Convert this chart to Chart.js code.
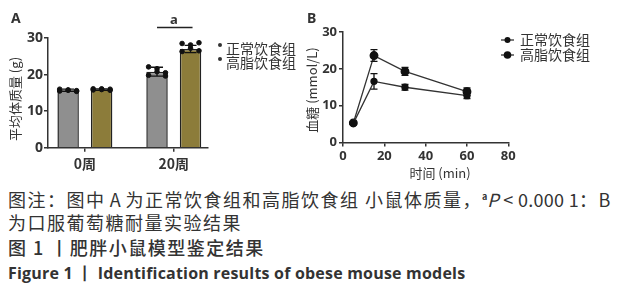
<!DOCTYPE html>
<html>
<head>
<meta charset="utf-8">
<script src="https://cdn.jsdelivr.net/npm/chart.js@4.4.0/dist/chart.umd.min.js"></script>
<style>
    body { margin: 0; background: #fff; }
    #wrap { position: relative; width: 618px; height: 300px; overflow: hidden; }
    canvas { position: absolute; top: 0; }
    #cA { left: 0; }
    #cB { left: 300px; }
    .cap { position: absolute; left: 8px; font-family: "Noto Sans CJK SC"; font-size: 18px; color: #333;
           letter-spacing: 1.5px; white-space: nowrap; line-height: 20px; }
    .cap sup { font-size: 9px; vertical-align: 7px; letter-spacing: 0; font-weight: bold; }
    .lat { letter-spacing: 0.3px; }
    .en { font-family: "Open Sans"; font-weight: 700; font-size: 16px; letter-spacing: 0.2px; }
</style>
</head>
<body>
<div id="wrap">
    <canvas id="cA" width="300" height="180"></canvas>
    <canvas id="cB" width="318" height="180"></canvas>
    <div class="cap" style="top:187px">图注：图中<span class="lat"> A </span>为正常饮食组和高脂饮食组 小鼠体质量，<sup>a</sup><span class="lat"><i>P</i> &lt; 0.000 1</span>：B</div>
    <div class="cap" style="top:212px">为口服葡萄糖耐量实验结果</div>
    <div class="cap" style="top:237px;font-weight:500">图 1 丨肥胖小鼠模型鉴定结果</div>
    <div class="cap en" style="top:263px">Figure 1 丨 Identification results of obese mouse models</div>
</div>
<script>
// Panel A: body mass (g), bars = mean, dots = single mice
var weekLabels = ['0周', '20周'];
var groupNames = ['正常饮食组', '高脂饮食组'];
var normalMass = [15.7, 20.8];
var normalMassSd = [0.3, 1.2];
var highFatMass = [15.9, 27.0];
var highFatMassSd = [0.2, 1.0];
var normalMassDots = [[16.0, 15.8, 15.6, 15.5, 15.7, 15.4], [22.1, 21.6, 20.5, 19.8, 20.8, 19.6]];
var highFatMassDots = [[16.1, 15.9, 16.0, 15.8, 16.1, 15.7], [28.5, 28.1, 28.7, 26.3, 27.2, 26.5]];
var massTicks = [0, 10, 20, 30];
var sigHeight = 32.9;
var sigMark = 'a';

// Panel B: oral glucose tolerance test, mmol/L
var ogttTime = [5, 15, 30, 60];
var normalGlucose = [5.2, 16.6, 15.0, 12.7];
var normalGlucoseSd = [0.3, 2.1, 0.8, 0.8];
var highFatGlucose = [5.3, 23.6, 19.3, 13.8];
var highFatGlucoseSd = [0.3, 1.6, 1.1, 1.0];
var glucoseTicks = [0, 10, 20, 30];
var timeTicks = [0, 20, 40, 60, 80];

var ink = '#333';
var cjk = '"Noto Sans CJK SC"';
var tickFont = { family: '"Noto Sans"', weight: 'bold', size: 14 };
Chart.defaults.font.family = cjk;
Chart.defaults.color = ink;

var catPct = 0.754;

// spread the mice over three columns on top of their bar
function dotPoints(groups, side) {
    var pts = [];
    groups.forEach(function (vals, i) {
        vals.forEach(function (v, k) {
            pts.push({ x: i + side * catPct / 4 + (k % 3 - 1) * 0.095, y: v });
        });
    });
    return pts;
}

// mean +/- SD whiskers for any dataset that carries an errs array
var errorBarPlugin = {
    id: 'errorBars',
    afterDatasetsDraw: function (chart) {
        var ctx = chart.ctx, y = chart.scales.y;
        chart.data.datasets.forEach(function (ds, i) {
            if (!ds.errs) return;
            var meta = chart.getDatasetMeta(i);
            var cap = ds.capWidth || 5;
            ctx.save();
            ctx.strokeStyle = '#111';
            ctx.lineWidth = 1.3;
            meta.data.forEach(function (el, j) {
                var v = ds.data[j].y, e = ds.errs[j];
                var t = y.getPixelForValue(v + e), b = y.getPixelForValue(v - e);
                ctx.beginPath();
                ctx.moveTo(el.x, t); ctx.lineTo(el.x, b);
                ctx.moveTo(el.x - cap, t); ctx.lineTo(el.x + cap, t);
                ctx.moveTo(el.x - cap, b); ctx.lineTo(el.x + cap, b);
                ctx.stroke();
            });
            ctx.restore();
        });
    }
};

function rotatedText(ctx, text, x, y, font) {
    ctx.save();
    ctx.translate(x, y);
    ctx.rotate(-Math.PI / 2);
    ctx.font = font;
    ctx.textAlign = 'center';
    ctx.textBaseline = 'middle';
    ctx.fillText(text, 0, 0);
    ctx.restore();
}

// panel letter, axis title, legend and the significance bar of panel A
var panelAPlugin = {
    id: 'panelA',
    afterDraw: function (chart) {
        var ctx = chart.ctx;
        ctx.save();
        ctx.fillStyle = ink;
        ctx.strokeStyle = '#222';
        ctx.font = 'bold 14px "Noto Sans"';
        ctx.textBaseline = 'middle';
        ctx.fillText('A', 11, 19);
        rotatedText(ctx, '平均体质量 (g)', 15, 99, '13px ' + cjk);

        // significance bar between the two 20 week bars
        var y = chart.scales.y.getPixelForValue(sigHeight);
        var x1 = chart.getDatasetMeta(2).data[1].x, x2 = chart.getDatasetMeta(3).data[1].x;
        ctx.lineWidth = 1.5;
        ctx.beginPath();
        ctx.moveTo(x1, y); ctx.lineTo(x2 + 2, y);
        ctx.stroke();
        ctx.font = 'bold 13px "Noto Sans"';
        ctx.textAlign = 'center';
        ctx.fillText(sigMark, (x1 + x2) / 2, y - 7);

        // legend
        ctx.textAlign = 'left';
        ctx.font = '14px ' + cjk;
        groupNames.forEach(function (name, i) {
            var ly = 49 + i * 14;
            ctx.beginPath();
            ctx.arc(220, ly - 4, 2, 0, Math.PI * 2);
            ctx.fill();
            ctx.fillText(name, 226, ly);
        });
        ctx.restore();
    }
};

var panelBPlugin = {
    id: 'panelB',
    afterDraw: function (chart) {
        var ctx = chart.ctx;
        ctx.save();
        ctx.fillStyle = ink;
        ctx.strokeStyle = ink;
        ctx.font = 'bold 14px "Noto Sans"';
        ctx.textBaseline = 'middle';
        ctx.fillText('B', 7, 19);
        rotatedText(ctx, '血糖 (mmol/L)', 12, 90, '13px ' + cjk);
        ctx.font = '13px ' + cjk;
        ctx.textAlign = 'center';
        ctx.fillText('时间 (min)', 140, 173);

        // legend: line with marker, then group name
        ctx.textAlign = 'left';
        ctx.font = '14px ' + cjk;
        chart.data.datasets.forEach(function (ds, i) {
            var ly = 40 + i * 15;
            ctx.lineWidth = 1.3;
            ctx.beginPath();
            ctx.moveTo(201, ly); ctx.lineTo(214, ly);
            ctx.stroke();
            ctx.beginPath();
            ctx.arc(207.5, ly, ds.pointRadius, 0, Math.PI * 2);
            ctx.fillStyle = '#111';
            ctx.fill();
            ctx.fillStyle = ink;
            ctx.fillText(ds.label, 220, ly);
        });
        ctx.restore();
    }
};

function axisStyle(extra) {
    var base = {
        grid: { display: true, drawOnChartArea: false, color: ink, lineWidth: 1.5, tickLength: 4, offset: false },
        border: { display: true, color: ink, width: 1.5 },
        ticks: { color: ink, font: tickFont, maxRotation: 0 }
    };
    return Object.assign(base, extra);
}

new Chart(document.getElementById('cA'), {
    type: 'bar',
    data: {
        datasets: [
            { type: 'scatter', data: dotPoints(normalMassDots, -1), backgroundColor: '#111', borderColor: '#111', pointRadius: 2.3, order: 0 },
            { type: 'scatter', data: dotPoints(highFatMassDots, 1), backgroundColor: '#111', borderColor: '#111', pointRadius: 2.3, order: 0 },
            {
                label: groupNames[0],
                data: normalMass.map(function (v, i) { return { x: i, y: v }; }),
                errs: normalMassSd, capWidth: 6,
                backgroundColor: '#8f8f8f', borderColor: '#222', borderWidth: 1.5,
                categoryPercentage: catPct, barPercentage: 0.64, order: 1
            },
            {
                label: groupNames[1],
                data: highFatMass.map(function (v, i) { return { x: i, y: v }; }),
                errs: highFatMassSd, capWidth: 6,
                backgroundColor: '#8c7c3a', borderColor: '#222', borderWidth: 1.5,
                categoryPercentage: catPct, barPercentage: 0.64, order: 1
            }
        ]
    },
    options: {
        responsive: false,
        animation: false,
        layout: { padding: { top: 38, right: 92, left: 0, bottom: 0 } },
        plugins: { legend: { display: false }, tooltip: { enabled: false } },
        scales: {
            x: axisStyle({
                type: 'linear', min: -0.415, max: 1.385, offset: false,
                afterBuildTicks: function (s) { s.ticks = weekLabels.map(function (l, i) { return { value: i }; }); },
                ticks: { color: ink, font: { family: cjk, size: 14, weight: 'bold' }, padding: 4, maxRotation: 0,
                         callback: function (v, i) { return weekLabels[i]; } },
                afterFit: function (s) { s.height = 32.3; }
            }),
            y: axisStyle({
                min: 0, max: 30,
                afterBuildTicks: function (s) { s.ticks = massTicks.map(function (v) { return { value: v }; }); },
                ticks: { color: ink, font: tickFont, padding: 1 },
                afterFit: function (s) { s.width = 48; }
            })
        }
    },
    plugins: [errorBarPlugin, panelAPlugin]
});

new Chart(document.getElementById('cB'), {
    type: 'line',
    data: {
        datasets: [
            {
                label: groupNames[0],
                data: ogttTime.map(function (t, i) { return { x: t, y: normalGlucose[i] }; }),
                errs: normalGlucoseSd, capWidth: 3.5,
                borderColor: ink, borderWidth: 1.3, pointRadius: 3, pointBackgroundColor: '#111', pointBorderColor: '#111'
            },
            {
                label: groupNames[1],
                data: ogttTime.map(function (t, i) { return { x: t, y: highFatGlucose[i] }; }),
                errs: highFatGlucoseSd, capWidth: 3.5,
                borderColor: ink, borderWidth: 1.3, pointRadius: 3.8, pointBackgroundColor: '#111', pointBorderColor: '#111'
            }
        ]
    },
    options: {
        responsive: false,
        animation: false,
        layout: { padding: { top: 32, right: 109.7, left: 0, bottom: 0 } },
        plugins: { legend: { display: false }, tooltip: { enabled: false } },
        scales: {
            x: axisStyle({
                type: 'linear', min: 0, max: 80,
                afterBuildTicks: function (s) { s.ticks = timeTicks.map(function (v) { return { value: v }; }); },
                ticks: { color: ink, font: { family: '"Noto Sans"', weight: 'bold', size: 13 }, padding: 2 },
                afterFit: function (s) { s.height = 37.5; }
            }),
            y: axisStyle({
                min: 0, max: 30,
                afterBuildTicks: function (s) { s.ticks = glucoseTicks.map(function (v) { return { value: v }; }); },
                ticks: { color: ink, font: { family: '"Noto Sans"', weight: 'bold', size: 13 }, padding: 2 },
                afterFit: function (s) { s.width = 43; }
            })
        }
    },
    plugins: [errorBarPlugin, panelBPlugin]
});
</script>
</body>
</html>
